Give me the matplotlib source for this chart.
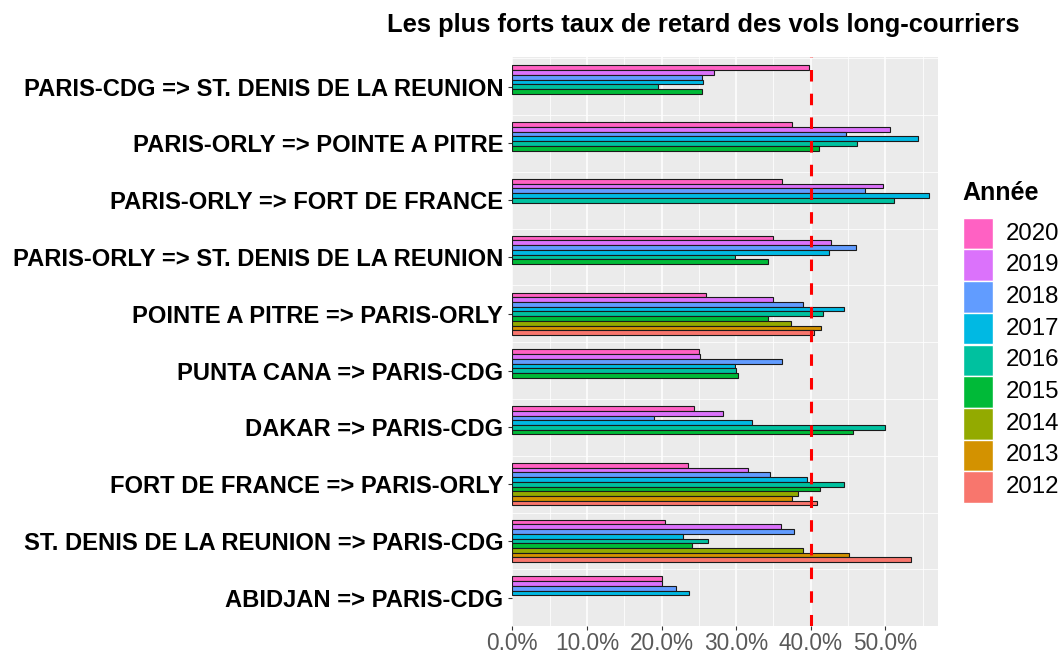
import matplotlib
matplotlib.use("Agg")
import matplotlib.pyplot as plt
from matplotlib.patches import Rectangle
import numpy as np

plt.rcParams['font.family'] = ['Liberation Sans', 'DejaVu Sans']
plt.rcParams['lines.scale_dashes'] = False

routes = [
    "PARIS-CDG => ST. DENIS DE LA REUNION",
    "PARIS-ORLY => POINTE A PITRE",
    "PARIS-ORLY => FORT DE FRANCE",
    "PARIS-ORLY => ST. DENIS DE LA REUNION",
    "POINTE A PITRE => PARIS-ORLY",
    "PUNTA CANA => PARIS-CDG",
    "DAKAR => PARIS-CDG",
    "FORT DE FRANCE => PARIS-ORLY",
    "ST. DENIS DE LA REUNION => PARIS-CDG",
    "ABIDJAN => PARIS-CDG",
]
years = [2020, 2019, 2018, 2017, 2016, 2015, 2014, 2013, 2012]
colors = ["#FF61C3", "#DB72FB", "#619CFF", "#00B9E3", "#00C19F",
          "#00BA38", "#93AA00", "#D39200", "#F8766D"]

# delay rates (%) per route, ordered 2020 -> 2012 ; None = no data
rate_cdg_stdenis      = [39.8, 27.0, 25.4, 25.6, 19.5, 25.4, None, None, None]
rate_orly_pointe      = [37.5, 50.6, 44.7, 54.4, 46.2, 41.1, None, None, None]
rate_orly_fdf         = [36.1, 49.7, 47.3, 55.8, 51.1, None, None, None, None]
rate_orly_stdenis     = [35.0, 42.7, 46.1, 42.5, 29.9, 34.3, None, None, None]
rate_pointe_orly      = [26.0, 35.0, 39.0, 44.5, 41.6, 34.3, 37.4, 41.4, 40.5]
rate_puntacana_cdg    = [25.0, 25.2, 36.2, 29.9, 30.0, 30.3, None, None, None]
rate_dakar_cdg        = [24.4, 28.3, 19.0, 32.1, 49.9, 45.7, None, None, None]
rate_fdf_orly         = [23.5, 31.6, 34.6, 39.5, 44.5, 41.2, 38.3, 37.5, 40.8]
rate_stdenis_cdg      = [20.5, 36.0, 37.8, 22.9, 26.2, 24.1, 39.0, 45.1, 53.5]
rate_abidjan_cdg      = [20.1, 20.1, 21.9, 23.7, None, None, None, None, None]

rates = [rate_cdg_stdenis, rate_orly_pointe, rate_orly_fdf, rate_orly_stdenis,
         rate_pointe_orly, rate_puntacana_cdg, rate_dakar_cdg, rate_fdf_orly,
         rate_stdenis_cdg, rate_abidjan_cdg]

threshold = 40.0
title = "Les plus forts taux de retard des vols long-courriers"

W, H = 1063, 653
fig = plt.figure(figsize=(W / 100, H / 100), dpi=100)
px = lambda x: x / W
py = lambda y: 1 - y / H

left, right, top, bottom = 512.3, 938.3, 57.3, 625.7
ax = fig.add_axes([px(left), py(bottom), px(right - left), (bottom - top) / H])
ax.set_facecolor("#EBEBEB")
for s in ax.spines.values():
    s.set_visible(False)

ax.set_xlim(0, 57.1)
ax.set_ylim(9.493, -0.518)

# grid
for v in range(0, 60, 10):
    ax.axvline(v, color="white", lw=1.1, zorder=0)
for v in range(5, 60, 10):
    ax.axvline(v, color="white", lw=0.55, zorder=0)
for k in range(-1, 10):
    ax.axhline(k + 0.5, color="white", lw=0.55, zorder=0)

total = 0.75
h = total / len(years)
for i, vals in enumerate(rates):
    for j, v in enumerate(vals):
        if v is None:
            continue
        yc = i - total / 2 + h * (j + 0.5)
        ax.barh(yc, v, height=h, color=colors[j], edgecolor="#1a1a1a",
                linewidth=0.8, zorder=2)

ax.axvline(threshold, color="#FF0000", lw=2.2, linestyle=(0, (8.3, 8.76)), zorder=3)

ax.set_yticks(range(len(routes)))
ax.set_yticklabels(routes, fontsize=17.15, fontweight="bold", color="black")
ax.set_xticks(range(0, 60, 10))
ax.set_xticklabels([f"{v:.1f}%" for v in range(0, 60, 10)], fontsize=16.3, color="#595959")
ax.tick_params(axis="y", length=2.9, width=0.8, color="#333333", pad=3.6)
ax.tick_params(axis="x", length=2.9, width=0.8, color="#333333", pad=1.5)

fig.text(px(703.5), py(31.7), title, fontsize=18.4, fontweight="bold",
         ha="center", va="baseline")

# legend
fig.text(px(962.7), py(193), "Année", fontsize=18, fontweight="bold",
         ha="left", va="center")
kx, ky0, kw, kh = 963.3, 217.7, 30.0, 31.7
for j, (yr, c) in enumerate(zip(years, colors)):
    y0 = ky0 + j * kh
    fig.add_artist(Rectangle((px(kx), py(y0 + kh)), kw / W, kh / H,
                             transform=fig.transFigure, facecolor=c,
                             edgecolor="white", lw=1.0))
    fig.text(px(1006), py(y0 + kh / 2), str(yr), fontsize=17.3,
             ha="left", va="center", color="black")

fig.savefig("out.png", dpi=100)
